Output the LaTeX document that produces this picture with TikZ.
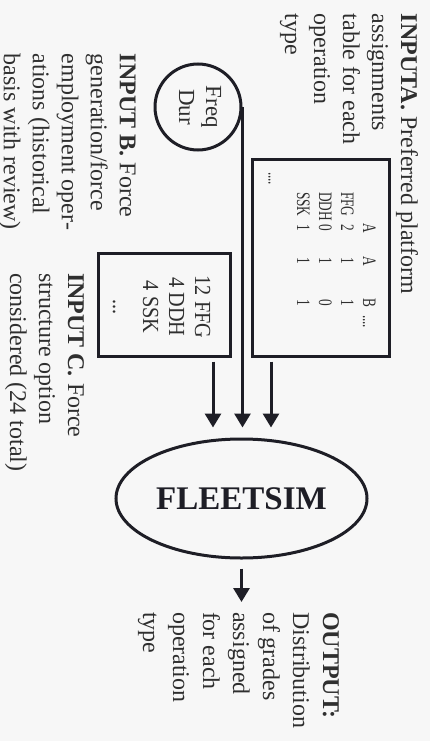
\documentclass[tikz,border=0pt]{standalone}
\usepackage{fontspec}
\setmainfont{Liberation Serif}
\newfontfamily\tabfont[FakeStretch=0.7]{Liberation Serif}
\newfontfamily\boxfont[FakeStretch=0.88]{Liberation Serif}
\usepackage{graphicx}
\usetikzlibrary{shapes.geometric, arrows.meta}
\definecolor{bgcol}{HTML}{F7F7F7}
\definecolor{inkcol}{HTML}{1E1E26}
\definecolor{txtcol}{HTML}{2F2F2F}
\newcommand\vlines[1]{\rotatebox{-90}{\begin{tabular}{@{}l@{}}#1\end{tabular}}}
\newcommand\vlinesc[1]{\rotatebox{-90}{\begin{tabular}{@{}c@{}}#1\end{tabular}}}
\begin{document}
\begin{tikzpicture}[x=1pt, y=-1pt,
  vt/.style={inner sep=0pt, outer sep=0pt, text=txtcol},
  para/.style={vt, font=\fontsize{24}{29}\selectfont},
  tab/.style={vt, font=\tabfont\fontsize{19}{22}\selectfont},
  outline/.style={draw=inkcol, line width=3pt},
  arr/.style={draw=inkcol, line width=3pt, -{Triangle[length=14pt,width=16pt]}}
]
\fill[bgcol] (0,0) rectangle (430,741);
\useasboundingbox (0,0) rectangle (430,741);

% Input A
\node[para, anchor=north east] (inA) at (421.3,14)
  {\vlines{\textbf{INPUTA.} Preferred platform\\assignments\\table for each\\operation\\type}};
\node[outline, minimum width=137pt, minimum height=197pt] (boxA) at (320.5,257.5) {};
\node[tab, anchor=north east] (tlab) at (356.4,192) {\vlines{FFG\\DDH\\SSK}};
\node[tab, anchor=east] (tc1) at (378.4,228) {\vlinesc{A\\2\\0\\1}};
\node[tab, anchor=east] (tc2) at (378.4,261) {\vlinesc{A\\1\\1\\1}};
\node[tab, anchor=east] (tc3) at (378.4,303) {\vlinesc{B\\1\\0\\1}};
\node[tab, anchor=north east] (tdotsa) at (378.4,315) {\vlines{....}};
\node[tab, anchor=north east] (tdotsb) at (284,172) {\vlines{....}};

% Input B
\node[outline, circle, minimum size=86pt, inner sep=0pt, text=txtcol,
      font=\fontsize{23}{27}\selectfont] (freq) at (198,107) {\vlinesc{Freq\\Dur}};
\node[para, anchor=north east] (inB) at (140.3,54)
  {\vlines{\textbf{INPUT B.} Force\\generation/force\\employment oper-\\ations (historical\\basis with review)}};

% Input C
\node[outline, minimum width=132pt, minimum height=103pt] (boxC) at (164,304.5) {};
\node[vt, font=\boxfont\fontsize{23}{26}\selectfont, anchor=east] (ctext) at (213.2,307)
  {\vlinesc{12 FFG\\4 DDH\\4 SSK\\[4pt]...}};
\node[para, anchor=north east] (inC) at (88.3,273)
  {\vlines{\textbf{INPUT C.} Force\\structure option\\considered (24 total)}};

% FLEETSIM
\node[outline, ellipse, minimum width=251pt, minimum height=119pt, text=inkcol,
      font=\fontsize{33}{36}\selectfont\bfseries] (fs) at (241.5,498.5) {FLEETSIM};

% Output
\node[vt, font=\fontsize{24}{30}\selectfont, anchor=north east] (out) at (344,612)
  {\vlines{\textbf{OUTPUT:}\\Distribution\\of grades\\assigned\\for each\\operation\\type}};

% connectors
\coordinate (cA) at ([xshift=-49.5pt]boxA.south);
\coordinate (cC) at ([xshift=49pt]boxC.south);
\draw[arr, shorten >=10pt] ([yshift=-4pt]cC) -- (cC |- fs.north);
\draw[arr, shorten >=10pt] (freq.east) -- (freq.east |- fs.north);
\draw[arr, shorten >=10pt] ([yshift=-4pt]cA) -- (cA |- fs.north);
\draw[arr, shorten >=10pt] ([yshift=-9pt]fs.south) -- (fs.south |- out.north);
\end{tikzpicture}
\end{document}
